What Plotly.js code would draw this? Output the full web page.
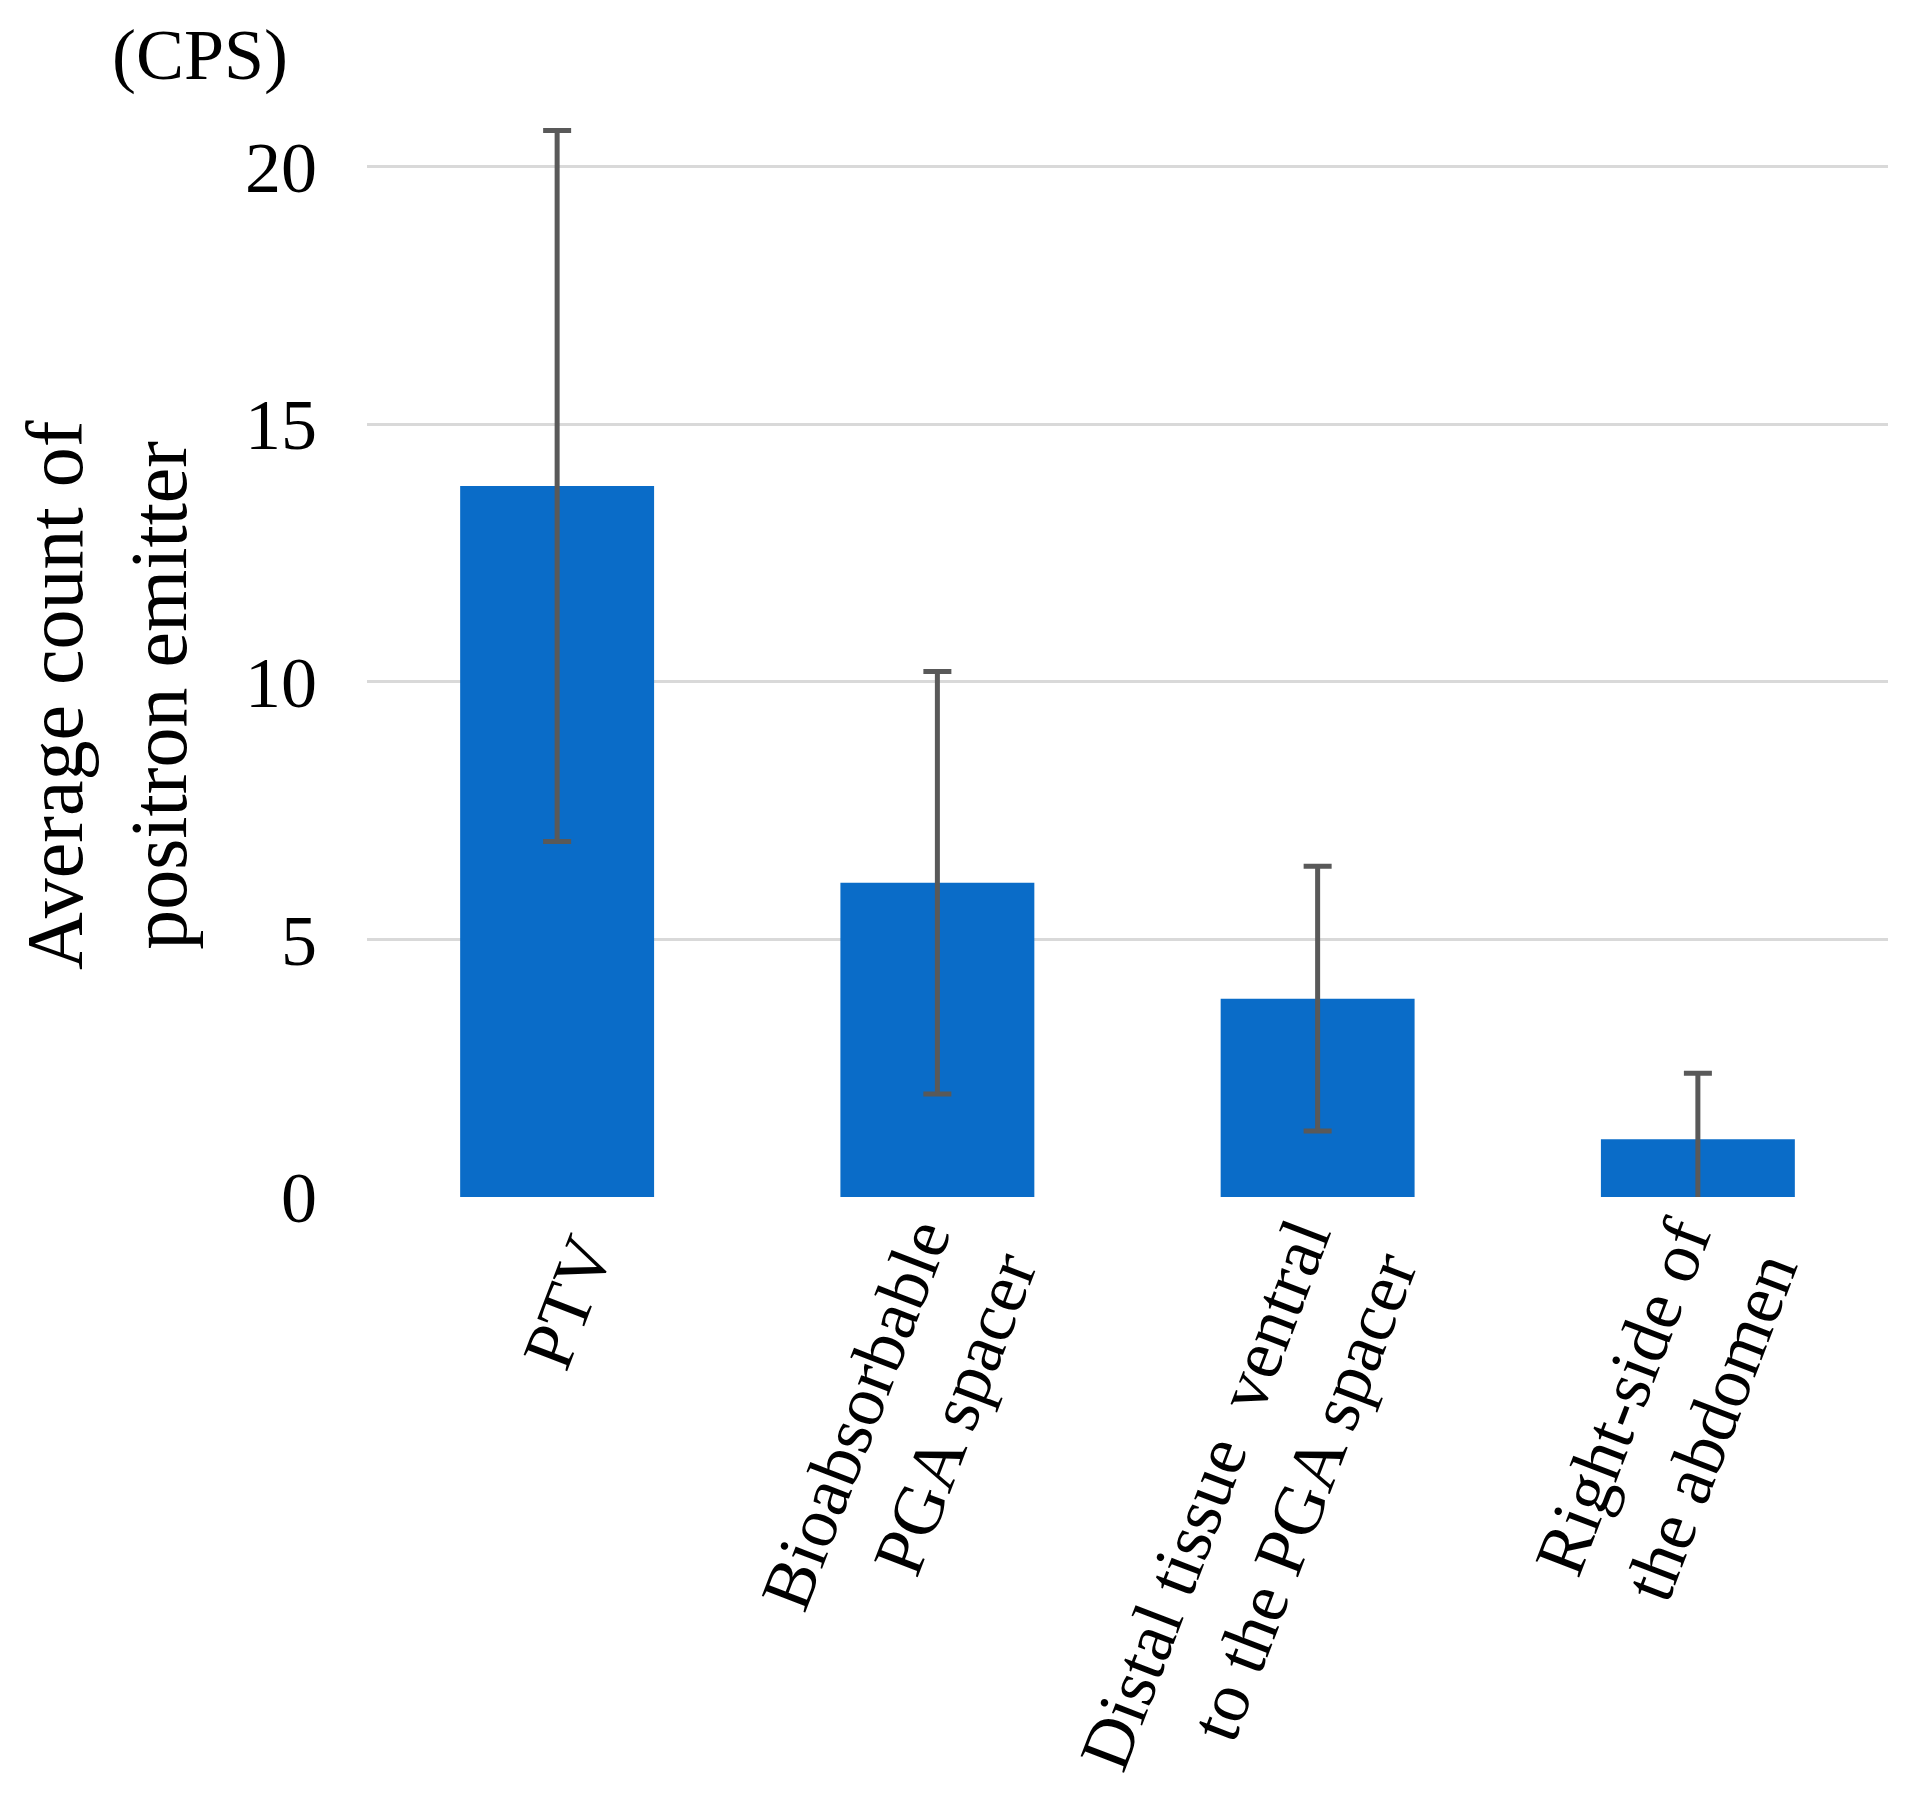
<!DOCTYPE html>
<html>
<head>
<meta charset="utf-8">
<script src="https://cdn.plot.ly/plotly-3.0.1.min.js"></script>
<style>html,body{margin:0;padding:0;background:#fff;}#chart{width:1919px;height:1796px;}</style>
</head>
<body>
<div id="chart"></div>
<script>
const categories = ["PTV", "Bioabsorbable<br>PGA spacer", "Distal tissue  ventral<br>to the PGA spacer", "Right-side of<br>the abdomen"];
const averageCount = [13.8, 6.1, 3.85, 1.12];
const errorSD = [6.9, 4.1, 2.57, 1.28];
const yTickValues = [0, 5, 10, 15, 20];
const yTickLabels = ["0", "5", "10", "15", "20"];
const yTitle = "Average count of<br>positron emitter";
const unitLabel = "(CPS)";

const serif = "'Liberation Serif', 'Times New Roman', Times, serif";

const trace = {
  type: "bar",
  x: categories,
  y: averageCount,
  marker: { color: "#0a6cc8", line: { width: 0 } },
  error_y: { type: "data", array: errorSD, visible: true, color: "#595959", thickness: 5, width: 14 },
  cliponaxis: false,
  hoverinfo: "x+y"
};

const layout = {
  width: 1919,
  height: 1796,
  paper_bgcolor: "#ffffff",
  plot_bgcolor: "#ffffff",
  showlegend: false,
  bargap: 0.49,
  margin: { l: 367, r: 31, t: 115, b: 599, pad: 0 },
  font: { family: serif, color: "#000000", size: 72 },
  xaxis: {
    type: "category",
    tickangle: -69,
    tickfont: { family: serif, size: 71, color: "#000000" },
    ticklabelshift: 24,
    ticklabelstandoff: 2,
    showline: false,
    ticks: "",
    showgrid: false,
    zeroline: false,
    automargin: false
  },
  yaxis: {
    range: [0, 21],
    tickvals: yTickValues,
    ticktext: yTickLabels,
    tickfont: { family: serif, size: 72, color: "#000000" },
    showgrid: true,
    gridcolor: "#d9d9d9",
    gridwidth: 3,
    zeroline: false,
    showline: false,
    ticks: "",
    ticklabelstandoff: 49,
    automargin: false
  },
  annotations: [
    { text: unitLabel, xref: "paper", yref: "paper", x: -0.11, y: 1.0, yshift: 60, xanchor: "center", yanchor: "middle", showarrow: false, font: { family: serif, size: 72, color: "#000000" } },
    { text: yTitle, xref: "paper", yref: "y", x: -0.171, y: 9.74, xanchor: "center", yanchor: "middle", textangle: -90, showarrow: false, font: { family: serif, size: 80, color: "#000000" } }
  ]
};

Plotly.newPlot("chart", [trace], layout, { displayModeBar: false, staticPlot: true });
</script>
</body>
</html>
